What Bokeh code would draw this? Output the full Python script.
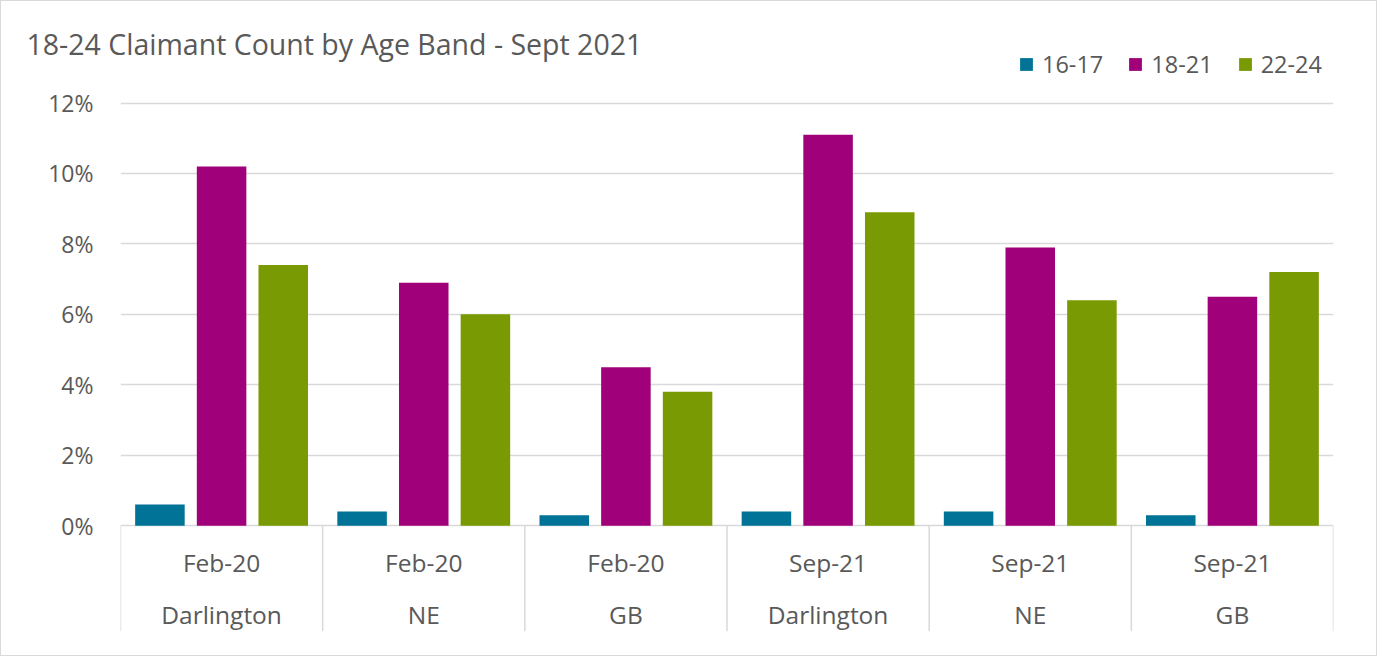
from bokeh.plotting import figure
from bokeh.models import ColumnDataSource, FixedTicker, Legend, LegendItem, PrintfTickFormatter, Range1d
from bokeh.transform import dodge
from bokeh.core.properties import value
from bokeh.embed import file_html
from bokeh.resources import INLINE

# ---- data ----
dates = ["Feb-20", "Feb-20", "Feb-20", "Sep-21", "Sep-21", "Sep-21"]
areas = ["Darlington", "NE", "GB", "Darlington", "NE", "GB"]
series = ["16-17", "18-21", "22-24"]
v_16_17 = [0.6, 0.4, 0.3, 0.4, 0.4, 0.3]
v_18_21 = [10.2, 6.9, 4.5, 11.1, 7.9, 6.5]
v_22_24 = [7.4, 6.0, 3.8, 8.9, 6.4, 7.2]
y_ticks = [0, 2, 4, 6, 8, 10, 12]
title_text = "18-24 Claimant Count by Age Band - Sept 2021"

# ---- styling / layout ----
colors = ["#007396", "#A0007A", "#799A02"]
text_color = "#595959"
grid_color = "#d9d9d9"
FONT = "Open Sans"
W, H = 1377, 656
SX, SY = W / 1393.0, H / 672.0          # reference-pixel -> figure-pixel
frame_l = 120 * SX
frame_r = 1347 * SX
frame_t = 45
y12 = 104 * SY
y0 = 537 * SY
ppu = (y0 - y12) / 12.0
y_end = 12 + (y12 - frame_t) / ppu
y_start = -(H - y0) / ppu
sep_bottom = -(645 * SY - y0) / ppu
row1_y = -(575 * SY - y0) / ppu
row2_y = -(628 * SY - y0) / ppu

n = len(dates)
xc = [i + 0.5 for i in range(n)]
src = ColumnDataSource(dict(xc=xc, a=v_16_17, b=v_18_21, c=v_22_24, d=dates, r=areas))

p = figure(width=W, height=H, x_range=Range1d(0, n), y_range=Range1d(y_start, y_end),
           x_axis_type=None, tools="", toolbar_location=None, output_backend="svg",
           min_border_left=round(frame_l), min_border_right=round(W - frame_r),
           min_border_top=frame_t, min_border_bottom=0,
           styles={"border": "1px solid #d9d9d9"})
p.outline_line_color = None
p.background_fill_color = "white"
p.border_fill_color = "white"

# title (left of the frame, same row as the legend)
p.title.text = title_text
p.title.align = "left"
p.title.text_font = FONT
p.title.text_font_size = "28.5px"
p.title.text_font_style = "normal"
p.title.text_color = text_color
p.title.vertical_align = "bottom"
p.title.offset = -94
p.title.standoff = -33

# y axis
ax = p.yaxis[0]
ax.ticker = FixedTicker(ticks=y_ticks)
ax.formatter = PrintfTickFormatter(format="%d%%")
ax.axis_line_color = None
ax.major_tick_line_color = None
ax.minor_tick_line_color = None
ax.major_tick_out = 0
ax.major_label_standoff = 27
ax.major_label_text_font = FONT
ax.major_label_text_font_size = "23px"
ax.major_label_text_color = text_color

p.ygrid.ticker = FixedTicker(ticks=y_ticks)
p.ygrid.grid_line_color = grid_color
p.ygrid.grid_line_width = 1.5

# bars
bw = 0.245
off = 0.305
r1 = p.vbar(x=dodge("xc", -off, range=p.x_range), top="a", width=bw, bottom=0, source=src,
            fill_color=colors[0], line_color=None)
r2 = p.vbar(x=dodge("xc", 0, range=p.x_range), top="b", width=bw, bottom=0, source=src,
            fill_color=colors[1], line_color=None)
r3 = p.vbar(x=dodge("xc", off, range=p.x_range), top="c", width=bw, bottom=0, source=src,
            fill_color=colors[2], line_color=None)

# category separators and two-row category labels
seps = list(range(n + 1))
p.segment(x0=seps, y0=[0] * len(seps), x1=seps, y1=[sep_bottom] * len(seps),
          line_color=grid_color, line_width=1.5)
p.text(x="xc", y=row1_y, text="d", source=src, text_align="center", text_baseline="middle",
       text_font=value(FONT), text_font_size="24.5px", text_color=text_color)
p.text(x="xc", y=row2_y, text="r", source=src, text_align="center", text_baseline="middle",
       text_font=value(FONT), text_font_size="24.5px", text_color=text_color)

# legend
legend = Legend(items=[LegendItem(label=series[0], renderers=[r1]),
                       LegendItem(label=series[1], renderers=[r2]),
                       LegendItem(label=series[2], renderers=[r3])],
                orientation="horizontal", location=(898, 577),
                glyph_width=16, glyph_height=16, label_standoff=8, spacing=24,
                padding=0, margin=0, border_line_alpha=0, background_fill_alpha=0,
                label_text_font=FONT, label_text_font_size="23.5px", label_text_color=text_color)
p.add_layout(legend)

open("out.html", "w").write(file_html(p, INLINE))
